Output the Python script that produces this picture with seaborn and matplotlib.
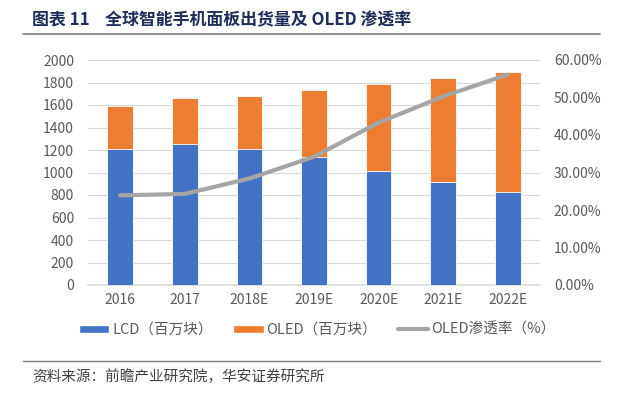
import numpy as np
import pandas as pd
import matplotlib
matplotlib.use("Agg")
import matplotlib.pyplot as plt
import seaborn as sns
from matplotlib.patches import Patch
from matplotlib.lines import Line2D

# data
years = ["2016", "2017", "2018E", "2019E", "2020E", "2021E", "2022E"]
lcd = [1209, 1256, 1206, 1141, 1016, 915, 830]
oled = [382, 409, 477, 592, 771, 922, 1060]
oled_rate = [23.9, 24.3, 28.4, 34.2, 43.3, 50.3, 56.1]

blue = "#4472C4"
orange = "#ED7D31"
gray = "#A5A5A5"
txt = "#595959"

sns.set_theme(style="white")
plt.rcParams["font.family"] = ["Noto Sans CJK SC", "DejaVu Sans"]

df = pd.DataFrame({"year": years, "lcd": lcd, "oled": oled, "rate": oled_rate})
df["total"] = df["lcd"] + df["oled"]

fig = plt.figure(figsize=(6.18, 3.93), dpi=100)
ax = fig.add_axes([88 / 618, 1 - 285 / 393, 452 / 618, 225 / 393])

# stacked bars: total (orange) behind, LCD (blue) in front
sns.barplot(data=df, x="year", y="total", color=orange, width=0.4,
            edgecolor="white", linewidth=0.6, saturation=1, ax=ax, zorder=2)
sns.barplot(data=df, x="year", y="lcd", color=blue, width=0.4,
            edgecolor="white", linewidth=0.6, saturation=1, ax=ax, zorder=3)

ax.set_ylim(0, 2000)
ax.set_yticks(np.arange(0, 2001, 200))
ax.set_xlabel("")
ax.set_ylabel("")
ax.grid(axis="y", color="#D9D9D9", linewidth=0.8, zorder=0)
ax.set_axisbelow(True)
for s in ["top", "right", "left"]:
    ax.spines[s].set_visible(False)
ax.spines["bottom"].set_color("#D9D9D9")
ax.tick_params(axis="both", length=0, colors=txt, labelsize=10)
ax.tick_params(axis="x", pad=6)
ax.tick_params(axis="y", pad=10)

# OLED penetration line on the right axis
ax2 = ax.twinx()
sns.pointplot(data=df, x="year", y="rate", color=gray, markers="",
              linewidth=3, ax=ax2)
for ln in ax2.lines:
    ln.set_solid_capstyle("round")
ax2.set_ylim(0, 60)
ax2.set_yticks(np.arange(0, 61, 10))
ax2.set_yticklabels([f"{v:.2f}%" for v in np.arange(0, 61, 10)])
ax2.set_ylabel("")
ax2.set_xlabel("")
for s in ["top", "right", "left", "bottom"]:
    ax2.spines[s].set_visible(False)
ax2.tick_params(axis="y", length=0, colors=txt, labelsize=10, pad=10)
ax2.grid(False)
ax.set_xlim(-0.5, len(years) - 0.5)
ax2.set_xlim(-0.5, len(years) - 0.5)

# legend
handles = [
    Patch(facecolor=blue, edgecolor="white"),
    Patch(facecolor=orange, edgecolor="white"),
    Line2D([0], [0], color=gray, linewidth=3),
]
labels = ["LCD（百万块）", "OLED（百万块）", "OLED渗透率（%）"]
fig.legend(handles, labels, loc="center", bbox_to_anchor=(317 / 618, 1 - 330 / 393),
           ncol=3, frameon=False, fontsize=10.5, labelcolor=txt,
           handlelength=2.1, handleheight=0.5, handletextpad=0.2,
           columnspacing=1.4)

# title, rules and source
fig.text(32 / 618, 1 - 20 / 393, "图表 11    全球智能手机面板出货量及 OLED 渗透率",
         fontsize=12.2, fontweight="bold", color="#1F2D5A", va="center", ha="left")
fig.add_artist(Line2D([23 / 618, 600 / 618], [1 - 34 / 393, 1 - 34 / 393],
                      color="#7F7F7F", linewidth=1.2))
fig.add_artist(Line2D([23 / 618, 600 / 618], [1 - 361 / 393, 1 - 361 / 393],
                      color="#7F7F7F", linewidth=1.0))
fig.text(32 / 618, 1 - 377 / 393, "资料来源：前瞻产业研究院，华安证券研究所",
         fontsize=10.5, color="#404040", va="center", ha="left")

fig.savefig("out.png", dpi=100, facecolor="white")
